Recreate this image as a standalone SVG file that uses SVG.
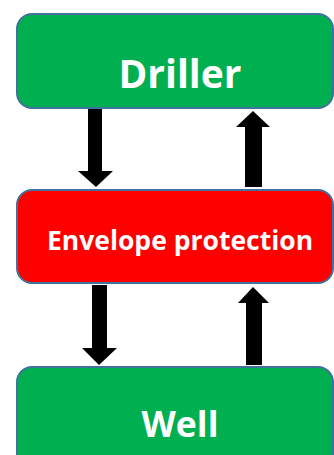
<svg xmlns="http://www.w3.org/2000/svg" width="334" height="455" viewBox="0 0 334 455">
<style>
.box{stroke:#41719C;stroke-width:2}
.green{fill:#00B050}
.red{fill:#FF0000}
.lbl{font-family:"Open Sans","Liberation Sans",sans-serif;font-weight:bold;fill:#FFFFFF;text-anchor:middle}
.arr{fill:#000000}
</style>
<rect width="334" height="455" fill="#FFFFFF"/>
<g id="connectors">
<polygon class="arr" points="88,108 102,108 102,171 113,171 96,187 78,171 88,171"/>
<polygon class="arr" points="245,187 262,187 262,127 270,127 253,111 236,127 245,127"/>
<polygon class="arr" points="92,285 107,285 107,348 117,348 99,365 82,348 92,348"/>
<polygon class="arr" points="246,365 262,365 262,303 269,303 253,287 238,303 246,303"/>
</g>
<g id="driller">
<rect class="box green" x="17" y="14" width="316" height="94" rx="15"/>
<text class="lbl" x="180" y="88" font-size="39">Driller</text>
</g>
<g id="envelope">
<rect class="box red" x="17" y="190" width="316" height="93" rx="15"/>
<text class="lbl" x="180" y="250" font-size="26.5">Envelope protection</text>
</g>
<g id="well">
<rect class="box green" x="17" y="367" width="316" height="110" rx="15"/>
<text class="lbl" x="180" y="437" font-size="35.5">Well</text>
</g>
</svg>
